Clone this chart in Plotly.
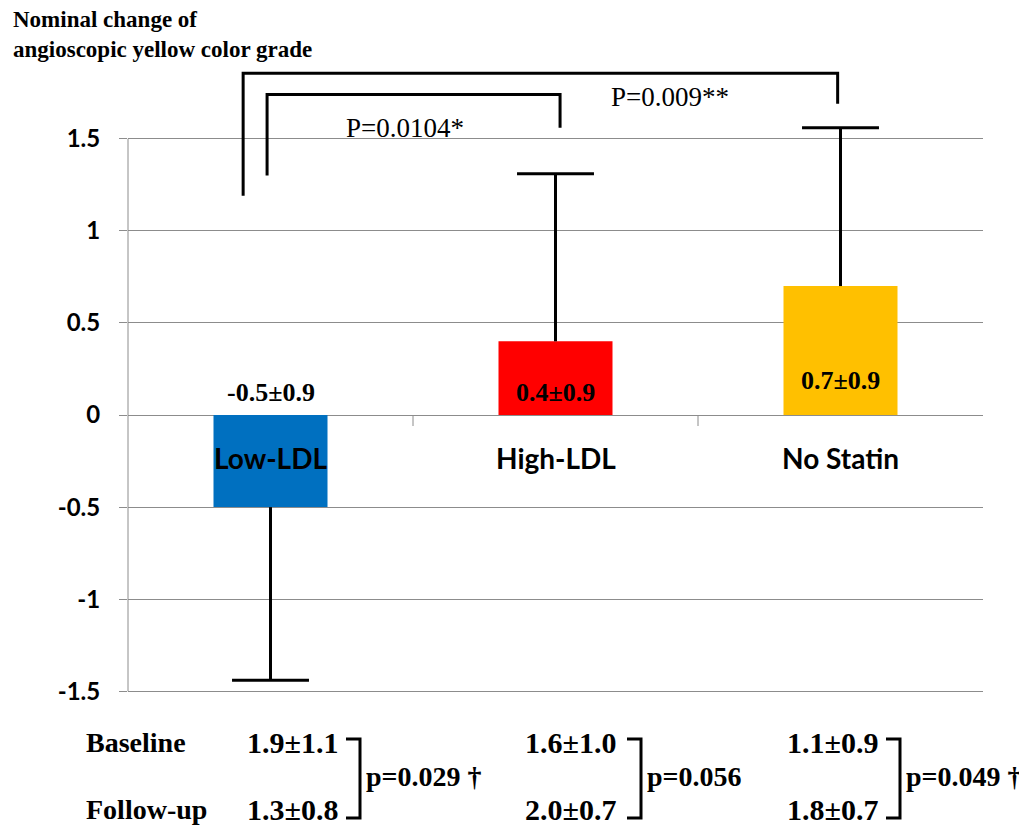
import plotly.graph_objects as go

# ---- data ----
groups = ["Low-LDL", "High-LDL", "No Statin"]
mean_change = [-0.5, 0.4, 0.7]
sd_change = [0.9, 0.9, 0.9]
err_drawn = [0.94, 0.91, 0.86]          # error bar lengths
bar_colors = ["#0070C0", "#FF0000", "#FFC000"]
y_ticks = [-1.5, -1, -0.5, 0, 0.5, 1, 1.5]
y_tick_text = ["-1.5", "-1", "-0.5", "0", "0.5", "1", "1.5"]
baseline = ["1.9\u00b11.1", "1.6\u00b11.0", "1.1\u00b10.9"]
followup = ["1.3\u00b10.8", "2.0\u00b10.7", "1.8\u00b10.7"]
p_within = ["p=0.029 \u2020", "p=0.056", "p=0.049 \u2020"]
p_between = ["P=0.0104*", "P=0.009**"]

# ---- layout geometry (page pixels; page has an 8px body margin) ----
OFF = 8
W, H = 1027 - OFF, 825 - OFF
PL, PR, PT, PB = 128, 983, 65, 695   # plot area in page pixels
ML, MR, MT, MB = PL - OFF, W - (PR - OFF), PT - OFF, H - (PB - OFF)
YR = [-1.52, 1.9]
PW = PR - PL
PH = PB - PT

def px(xp):
    return (xp - PL) / PW

def py(yp):
    return (PB - yp) / PH

SERIF = "Liberation Serif"
SANS = "Lato"

x_pos = list(range(len(groups)))

fig = go.Figure()
fig.add_trace(go.Bar(
    x=x_pos, y=mean_change, width=0.4,
    marker=dict(color=bar_colors, line=dict(width=0)),
    showlegend=False, hoverinfo="skip",
))

# one-sided error bars (away from zero)
cap = 0.135
ex, ey = [], []
for i, (m, e) in enumerate(zip(mean_change, err_drawn)):
    end = m + (e if m >= 0 else -e)
    ex += [i, i, None, i - cap, i + cap, None]
    ey += [m, end, None, end, end, None]
fig.add_trace(go.Scatter(x=ex, y=ey, mode="lines",
                         line=dict(color="black", width=3),
                         showlegend=False, hoverinfo="skip", cliponaxis=False))

shapes = []
# left axis line
shapes.append(dict(type="line", xref="paper", yref="y", x0=0, x1=0, y0=-1.5, y1=1.5,
                   line=dict(color="#8c8c8c", width=1)))
# category tick marks on zero line
for b in [0.5, 1.5]:
    shapes.append(dict(type="line", xref="x", yref="y", x0=b, x1=b, y0=0, y1=-11,
                       ysizemode="pixel", yanchor=0,
                       line=dict(color="#8c8c8c", width=1)))

# significance brackets (data coords)
def bracket(xl, xr, ytop, yl, yr):
    return dict(type="path", xref="x", yref="y",
                path=f"M {xl},{yl} L {xl},{ytop} L {xr},{ytop} L {xr},{yr}",
                line=dict(color="black", width=3))

shapes.append(bracket(-0.096, 1.99, 1.855, 1.19, 1.69))
shapes.append(bracket(-0.012, 1.016, 1.74, 1.30, 1.56))

# table brackets (pixel -> paper)
br_x = [360, 641, 900]
for xv in br_x:
    shapes.append(dict(type="path", xref="paper", yref="paper",
                       path=(f"M {px(xv-14)},{py(739)} L {px(xv)},{py(739)} "
                             f"L {px(xv)},{py(818)} L {px(xv-14)},{py(818)}"),
                       line=dict(color="black", width=3)))

ann = []
def note(text, x, y, size, xanchor="center", xref="paper", yref="paper", **font_kw):
    ann.append(dict(text=text, x=x, y=y, xref=xref, yref=yref, xanchor=xanchor,
                    yanchor="middle", showarrow=False,
                    font=dict(size=size, color="black", **font_kw)))

# title
ann.append(dict(text="<b>Nominal change of<br>angioscopic yellow color grade</b>",
                xref="paper", yref="paper", x=px(11), y=py(5), xanchor="left", yanchor="top",
                align="left", showarrow=False,
                font=dict(family=SERIF, size=23, color="black")))
# category labels
for i, g in enumerate(groups):
    note(g, i, -0.233, 28, xref="x", yref="y", family=SANS, weight="bold")
# value labels
lab_y = [0.12, 0.12, 0.19]
for i, (m, s) in enumerate(zip(mean_change, sd_change)):
    note(f"<b>{m}\u00b1{s}</b>", i, lab_y[i], 26, xref="x", yref="y", family=SERIF)
# between-group p values
note(p_between[0], px(405), py(128), 27, family=SERIF)
note(p_between[1], px(670), py(97), 27, family=SERIF)
# table
note("<b>Baseline</b>", px(84), py(742), 28, xanchor="left", family=SERIF)
note("<b>Follow-up</b>", px(84), py(809), 28, xanchor="left", family=SERIF)
val_right = [340, 618, 880]
for i in range(3):
    note(f"<b>{baseline[i]}</b>", px(val_right[i]), py(742), 30, xanchor="right", family=SERIF)
    note(f"<b>{followup[i]}</b>", px(val_right[i]), py(809), 30, xanchor="right", family=SERIF)
    note(f"<b>{p_within[i]}</b>", px(br_x[i] + 4), py(776), 28, xanchor="left", family=SERIF)

fig.update_layout(
    width=W, height=H,
    margin=dict(l=ML, r=MR, t=MT, b=MB, autoexpand=False),
    paper_bgcolor="white", plot_bgcolor="white",
    shapes=shapes, annotations=ann,
    xaxis=dict(range=[-0.5, 2.5], showticklabels=False, showgrid=False, zeroline=False,
               showline=False, ticks="", fixedrange=True),
    yaxis=dict(range=YR, tickvals=y_ticks, ticktext=y_tick_text,
               showgrid=True, gridcolor="#8c8c8c", gridwidth=1,
               zeroline=True, zerolinecolor="#8c8c8c", zerolinewidth=1,
               ticks="outside", ticklen=8, tickcolor="#8c8c8c", ticklabelstandoff=14,
               showline=False,
               tickfont=dict(family=SANS, size=24, color="black", weight="bold")),
)

fig.write_html("out.html")
